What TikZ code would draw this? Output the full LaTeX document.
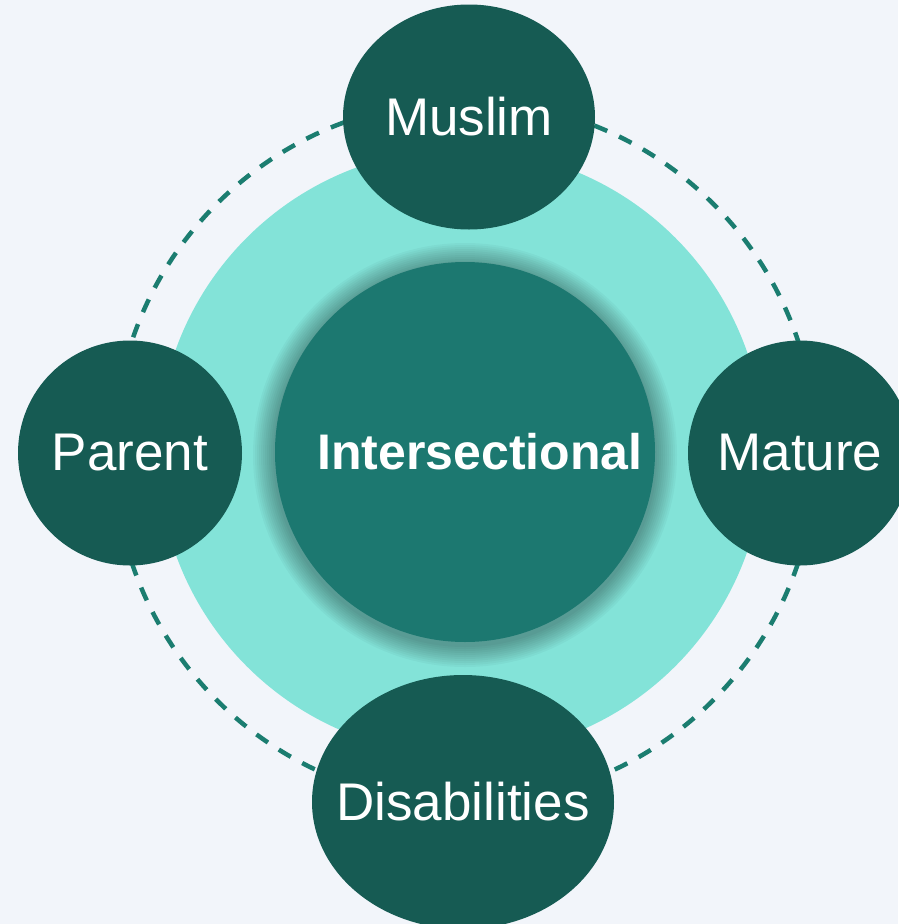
\documentclass[tikz,border=0pt]{standalone}
\usepackage{fontspec}
\setmainfont{Liberation Sans}
\usetikzlibrary{shapes.geometric}

\begin{document}
\begin{tikzpicture}[x=1pt,y=-1pt]
        %colores
        \definecolor{fondo}{HTML}{F2F5FA}
        \definecolor{menta}{HTML}{83E3D8}
        \definecolor{nucleo}{HTML}{1C7870}
        \definecolor{oscuro}{HTML}{165B53}
        \definecolor{linea}{HTML}{1B7D70}
        \tikzset{
            grupo/.style={ellipse,fill=oscuro,inner sep=0pt},
            texto/.style={text=white,inner sep=0pt,font=\fontsize{53}{60}\selectfont}
        }

        % Fondo
        \fill[fondo] (0,0) rectangle (898,924);
        \useasboundingbox (0,0) rectangle (898,924);

        % Anillo discontinuo
        \draw[linea,line width=4.5pt,dash pattern=on 14pt off 13pt] (465,452) circle[radius=351pt];
        % Circulo relleno
        \fill[menta] (461,452) circle[radius=303pt];

        % Sombra y circulo central
        \foreach \r in {1,...,11}
            \fill[black,opacity=0.03] (465,455) circle[radius=190pt+2pt*\r];
        \node[circle,fill=nucleo,minimum size=380pt,inner sep=0pt] (centro) at (465,452) {};
        \node[texto,font=\fontsize{50}{60}\selectfont\bfseries] (centro texto) at (480,452) {Intersectional};

        % Grupos alrededor
        \node[grupo,minimum width=252pt,minimum height=225pt] (muslim) at (469,117) {};
        \node[texto] (muslim texto) at (muslim) {Muslim};
        \node[grupo,minimum width=224pt,minimum height=225pt] (parent) at (130,453) {};
        \node[texto] (parent texto) at (parent) {Parent};
        \node[grupo,minimum width=224pt,minimum height=225pt] (mature) at (800,453) {};
        \node[texto] (mature texto) at (mature) {Mature};
        \node[grupo,minimum width=302pt,minimum height=254pt] (disab) at (463,802) {};
        \node[texto] (disab texto) at (disab) {Disabilities};
    \end{tikzpicture}
\end{document}
